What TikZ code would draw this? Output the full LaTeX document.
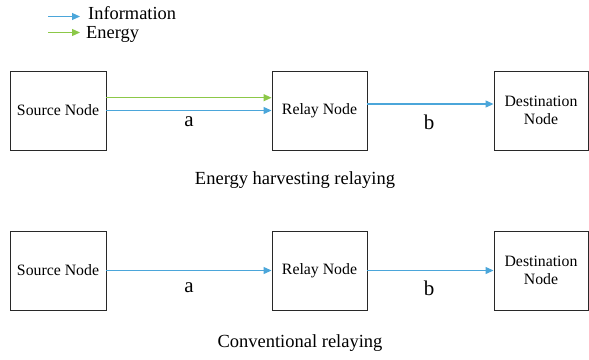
\documentclass[tikz,border=0pt]{standalone}
\usepackage{fontspec}
\setmainfont{Liberation Serif}
\newfontfamily\timesfont{Liberation Serif}
\usetikzlibrary{arrows.meta}
\definecolor{infoblue}{RGB}{75,166,218}
\definecolor{energygreen}{RGB}{140,200,72}
\definecolor{boxline}{RGB}{40,40,40}
\begin{document}
\begin{tikzpicture}[x=1pt,y=-1pt,
  nodebox/.style={draw=boxline,line width=0.9pt,minimum height=79pt,inner sep=0pt,align=center,font=\timesfont\fontsize{15.8}{18.5}\selectfont},
  info/.style={draw=infoblue,line width=1.2pt,-{Triangle[length=8pt,width=7pt]}},
  energy/.style={draw=energygreen,line width=1.2pt,-{Triangle[length=8pt,width=7pt]}},
  lbl/.style={font=\timesfont\fontsize{21}{24}\selectfont,inner sep=0pt},
  captext/.style={font=\timesfont\fontsize{18.5}{21}\selectfont,inner sep=0pt},
  leg/.style={font=\timesfont\fontsize{18.4}{21}\selectfont,inner sep=0pt,anchor=base west}]
\useasboundingbox (0,0) rectangle (589,359);
% legend
\coordinate (li1) at (48,16.5);
\coordinate (li2) at (80,16.5);
\coordinate (le1) at (48,32.5);
\coordinate (le2) at (80,32.5);
\draw[info] (li1) -- (li2);
\draw[energy] (le1) -- (le2);
\node[leg] (tinfo) at (88,19.5) {Information};
\node[leg] (tenergy) at (86,38) {Energy};
% top row
\node[nodebox,minimum width=96pt] (s1) at (58,110.5) {Source Node};
\node[nodebox,minimum width=95pt] (r1) at (319.5,110.5) {Relay Node};
\node[nodebox,minimum width=94pt] (d1) at (541,110.5) {Destination\\Node};
\draw[energy] ([yshift=12.8pt]s1.east) -- ([yshift=12.8pt]r1.west);
\draw[info] (s1.east) -- (r1.west);
\draw[info] ([yshift=6.5pt]r1.east) -- ([yshift=6.5pt]d1.west);
\node[lbl] (a1) at (189,122) {a};
\node[lbl] (b1) at (429,122) {b};
\node[captext] (c1) at (295,180) {Energy harvesting relaying};
% bottom row
\node[nodebox,minimum width=96pt] (s2) at (58,270.5) {Source Node};
\node[nodebox,minimum width=95pt] (r2) at (319.5,270.5) {Relay Node};
\node[nodebox,minimum width=94pt] (d2) at (541,270.5) {Destination\\Node};
\draw[info] (s2.east) -- (r2.west);
\draw[info] (r2.east) -- (d2.west);
\node[lbl] (a2) at (189,288) {a};
\node[lbl] (b2) at (429,288) {b};
\node[captext] (c2) at (300,343) {Conventional relaying};
\end{tikzpicture}
\end{document}
